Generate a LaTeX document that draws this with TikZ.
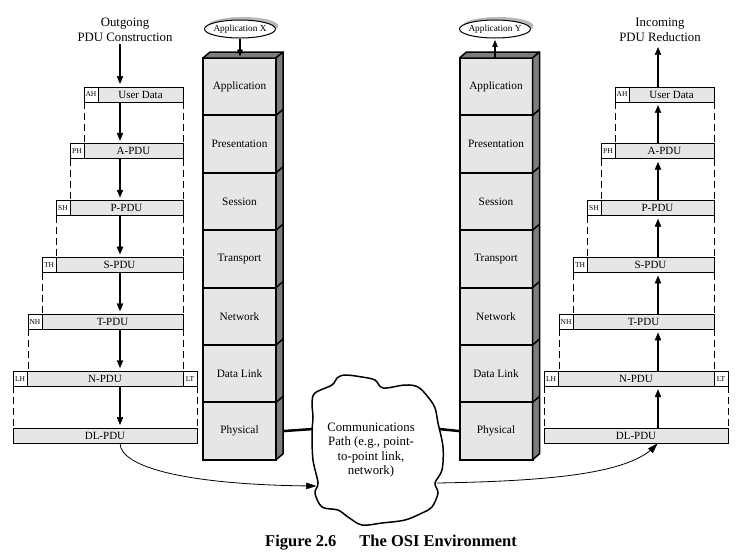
\documentclass[tikz,border=0pt]{standalone}
\usepackage{fontspec}
\setmainfont{Liberation Serif}
\usepackage{xcolor}
\definecolor{lgray}{RGB}{230,230,230}
\definecolor{dgray}{RGB}{125,125,125}
\usetikzlibrary{positioning, calc, shapes.geometric, arrows.meta,
        decorations.markings, shadows}
\tikzstyle{Arrow} = [
line width=2.6pt,
decoration={
markings,
mark=at position 0.9999 with {
\arrow{Triangle[length=12pt,width=9pt]}}},
shorten >= 6pt, preaction = {decorate}]
\tikzstyle{ArrowThin} = [
line width=0.8pt,
decoration={
markings,
mark=at position 0.9999 with {
\arrow{Triangle[length=11pt,width=7pt]}}},
shorten >= 5pt, preaction = {decorate}]
\tikzstyle{ArrowApp} = [
line width=1.6pt,
decoration={
markings,
mark=at position 0.9999 with {
\arrow{Triangle[length=9pt,width=7pt]}}},
shorten >= 4pt, preaction = {decorate}]
\tikzstyle{DashLine} = [line width=0.6pt, dash pattern=on 7pt off 4pt]
\tikzstyle{Pdu} = [draw, line width=0.7pt, fill=lgray, minimum height=15pt,
inner sep=0pt, outer sep=0pt, font=\fontsize{11}{13}\selectfont]
\tikzstyle{Hdr} = [draw, line width=0.7pt, fill=white, minimum height=15pt,
minimum width=14pt, inner sep=0pt, outer sep=0pt, font=\fontsize{7.5}{8}\selectfont]
\tikzstyle{Layer} = [draw, line width=2pt, fill=lgray, minimum width=73pt,
minimum height=57.4pt, inner sep=0pt, outer sep=0pt,
font=\fontsize{11.3}{13}\selectfont]
\tikzstyle{Face} = [draw, line width=1.5pt, fill=dgray, line join=round]
\tikzstyle{App} = [draw, ellipse, line width=1pt, fill=white, minimum width=71pt,
minimum height=18pt, inner sep=0pt,
drop shadow={shadow xshift=3pt, shadow yshift=3pt, fill=gray!55, opacity=1},
font=\fontsize{9.3}{11}\selectfont]
\tikzstyle{Title} = [align=center, inner sep=2pt, font=\fontsize{12.8}{15}\selectfont]

\begin{document}
\begin{tikzpicture}[x=1pt, y=-1pt]
    \useasboundingbox (0,0) rectangle (739,555);
    \coordinate (lx) at (120,0);
    \coordinate (rx) at (658,0);

    % outgoing side
    \node [Title] (ltitle) at (125,30) {Outgoing\\PDU Construction};
    \node [Pdu, minimum width=85pt, anchor=east] (lud) at (183,94.5) {User Data};
    \node [Hdr, left=0pt of lud] (lah) {AH};
    \node [Pdu, minimum width=99pt, anchor=east] (lapdu) at (183,151.3) {A-PDU};
    \node [Hdr, left=0pt of lapdu] (lph) {PH};
    \node [Pdu, minimum width=113pt, anchor=east] (lppdu) at (183,208.2) {P-PDU};
    \node [Hdr, left=0pt of lppdu] (lsh) {SH};
    \node [Pdu, minimum width=127pt, anchor=east] (lspdu) at (183,265) {S-PDU};
    \node [Hdr, left=0pt of lspdu] (lth) {TH};
    \node [Pdu, minimum width=141pt, anchor=east] (ltpdu) at (183,321.9) {T-PDU};
    \node [Hdr, left=0pt of ltpdu] (lnh) {NH};
    \node [Pdu, minimum width=156pt, anchor=east] (lnpdu) at (183,378.7) {N-PDU};
    \node [Hdr, left=0pt of lnpdu] (llh) {LH};
    \node [Hdr, right=0pt of lnpdu] (llt) {LT};
    \node [Pdu, minimum width=184pt, anchor=east] (ldlpdu) at (197,435.5) {DL-PDU};

    \draw[Arrow] (ltitle.south -| lx)--(lud.north -| lx);
    \draw[Arrow] (lud.south -| lx)--(lapdu.north -| lx);
    \draw[Arrow] (lapdu.south -| lx)--(lppdu.north -| lx);
    \draw[Arrow] (lppdu.south -| lx)--(lspdu.north -| lx);
    \draw[Arrow] (lspdu.south -| lx)--(ltpdu.north -| lx);
    \draw[Arrow] (ltpdu.south -| lx)--(lnpdu.north -| lx);
    \draw[Arrow] (lnpdu.south -| lx)--(ldlpdu.north -| lx);
    \draw[DashLine] (lah.south west)--(lah.south west |- lapdu.north);
    \draw[DashLine] (lud.south east)--(lapdu.north east);
    \draw[DashLine] (lph.south west)--(lph.south west |- lppdu.north);
    \draw[DashLine] (lapdu.south east)--(lppdu.north east);
    \draw[DashLine] (lsh.south west)--(lsh.south west |- lspdu.north);
    \draw[DashLine] (lppdu.south east)--(lspdu.north east);
    \draw[DashLine] (lth.south west)--(lth.south west |- ltpdu.north);
    \draw[DashLine] (lspdu.south east)--(ltpdu.north east);
    \draw[DashLine] (lnh.south west)--(lnh.south west |- lnpdu.north);
    \draw[DashLine] (ltpdu.south east)--(lnpdu.north east);
    \draw[DashLine] (llh.south west)--(ldlpdu.north west);
    \draw[DashLine] (llt.south east)--(ldlpdu.north east);

    % incoming side
    \node [Title] (rtitle) at (660,30) {Incoming\\PDU Reduction};
    \node [Pdu, minimum width=85pt, anchor=east] (rud) at (714,94.5) {User Data};
    \node [Hdr, left=0pt of rud] (rah) {AH};
    \node [Pdu, minimum width=99pt, anchor=east] (rapdu) at (714,151.3) {A-PDU};
    \node [Hdr, left=0pt of rapdu] (rph) {PH};
    \node [Pdu, minimum width=113pt, anchor=east] (rppdu) at (714,208.2) {P-PDU};
    \node [Hdr, left=0pt of rppdu] (rsh) {SH};
    \node [Pdu, minimum width=127pt, anchor=east] (rspdu) at (714,265) {S-PDU};
    \node [Hdr, left=0pt of rspdu] (rth) {TH};
    \node [Pdu, minimum width=141pt, anchor=east] (rtpdu) at (714,321.9) {T-PDU};
    \node [Hdr, left=0pt of rtpdu] (rnh) {NH};
    \node [Pdu, minimum width=156pt, anchor=east] (rnpdu) at (714,378.7) {N-PDU};
    \node [Hdr, left=0pt of rnpdu] (rlh) {LH};
    \node [Hdr, right=0pt of rnpdu] (rlt) {LT};
    \node [Pdu, minimum width=184pt, anchor=east] (rdlpdu) at (728,435.5) {DL-PDU};

    \draw[Arrow] (rud.north -| rx)--(rtitle.south -| rx);
    \draw[Arrow] (rapdu.north -| rx)--(rud.south -| rx);
    \draw[Arrow] (rppdu.north -| rx)--(rapdu.south -| rx);
    \draw[Arrow] (rspdu.north -| rx)--(rppdu.south -| rx);
    \draw[Arrow] (rtpdu.north -| rx)--(rspdu.south -| rx);
    \draw[Arrow] (rnpdu.north -| rx)--(rtpdu.south -| rx);
    \draw[Arrow] (rdlpdu.north -| rx)--(rnpdu.south -| rx);
    \draw[DashLine] (rah.south west)--(rah.south west |- rapdu.north);
    \draw[DashLine] (rud.south east)--(rapdu.north east);
    \draw[DashLine] (rph.south west)--(rph.south west |- rppdu.north);
    \draw[DashLine] (rapdu.south east)--(rppdu.north east);
    \draw[DashLine] (rsh.south west)--(rsh.south west |- rspdu.north);
    \draw[DashLine] (rppdu.south east)--(rspdu.north east);
    \draw[DashLine] (rth.south west)--(rth.south west |- rtpdu.north);
    \draw[DashLine] (rspdu.south east)--(rtpdu.north east);
    \draw[DashLine] (rnh.south west)--(rnh.south west |- rnpdu.north);
    \draw[DashLine] (rtpdu.south east)--(rnpdu.north east);
    \draw[DashLine] (rlh.south west)--(rdlpdu.north west);
    \draw[DashLine] (rlt.south east)--(rdlpdu.north east);

    % stack X
    \node [Layer] (xapp) at (239.5,86.7) {Application};
    \node [Layer, below=0pt of xapp] (xpre) {Presentation};
    \node [Layer, below=0pt of xpre] (xses) {Session};
    \node [Layer, below=0pt of xses] (xtra) {Transport};
    \node [Layer, below=0pt of xtra] (xnet) {Network};
    \node [Layer, below=0pt of xnet] (xdat) {Data Link};
    \node [Layer, below=0pt of xdat] (xphy) {Physical};
    \draw[Face] (xapp.north west) -- ++(7,-6) -- ([shift={(7,-6)}]xapp.north east) -- (xapp.north east) -- cycle;
    \draw[Face] (xapp.north east) -- ++(7,-6) -- ([shift={(7,-6)}]xphy.south east) -- (xphy.south east) -- cycle;
    \draw[line width=1.5pt] (xapp.south east) -- ++(7,-6) (xpre.south east) -- ++(7,-6)
        (xses.south east) -- ++(7,-6) (xtra.south east) -- ++(7,-6)
        (xnet.south east) -- ++(7,-6) (xdat.south east) -- ++(7,-6);
    \node [App] (appx) at (240,29) {\makebox[0pt]{Application X}};
    \draw[ArrowApp] (appx.south)--(appx |- xapp.north);

    % stack Y
    \node [Layer] (yapp) at (496,86.7) {Application};
    \node [Layer, below=0pt of yapp] (ypre) {Presentation};
    \node [Layer, below=0pt of ypre] (yses) {Session};
    \node [Layer, below=0pt of yses] (ytra) {Transport};
    \node [Layer, below=0pt of ytra] (ynet) {Network};
    \node [Layer, below=0pt of ynet] (ydat) {Data Link};
    \node [Layer, below=0pt of ydat] (yphy) {Physical};
    \draw[Face] (yapp.north west) -- ++(7,-6) -- ([shift={(7,-6)}]yapp.north east) -- (yapp.north east) -- cycle;
    \draw[Face] (yapp.north east) -- ++(7,-6) -- ([shift={(7,-6)}]yphy.south east) -- (yphy.south east) -- cycle;
    \draw[line width=1.5pt] (yapp.south east) -- ++(7,-6) (ypre.south east) -- ++(7,-6)
        (yses.south east) -- ++(7,-6) (ytra.south east) -- ++(7,-6)
        (ynet.south east) -- ++(7,-6) (ydat.south east) -- ++(7,-6);
    \node [App] (appy) at (495,29) {\makebox[0pt]{Application Y}};
    \draw[ArrowApp] (appy |- yapp.north)--(appy.south);

    % communications path
    \draw[line width=1.5pt, fill=white] plot[smooth cycle, tension=0.55] coordinates {
        (315,393) (332,385) (337,378) (345,375) (362,377) (375,380) (383,388)
        (405,385) (418,387) (428,397) (435,408) (438,423) (443,447) (442,470)
        (435,483) (438,493) (432,507) (422,513) (405,520) (382,523) (362,525)
        (348,517) (338,510) (322,507) (315,493) (318,483) (313,460) (312,433)
        (313,417) (312,403)};
    \node [align=center, font=\fontsize{12.8}{14.3}\selectfont] (path) at (371,450)
        {Communications\\Path (e.g., point-\\to-point link,\\network)};
    \coordinate (cl) at (313,429);
    \coordinate (cr) at (439,429);
    \coordinate (cla) at (317,486);
    \coordinate (cra) at (437,483);
    \draw[line width=2.5pt] ([xshift=7pt]xphy.east)--(cl);
    \draw[line width=2.5pt] (cr)--(yphy.west);
    \draw[ArrowThin] (ldlpdu.south -| lx) .. controls (120,468) and (190,485) .. (cla);
    \draw[ArrowThin] (cra) .. controls (560,481) and (630,472) .. (rdlpdu.south -| rx);

    \node [font=\bfseries\fontsize{16.5}{19}\selectfont] (caption) at (391,543)
        {Figure 2.6\hspace{23pt}The OSI Environment};
\end{tikzpicture}
\end{document}
